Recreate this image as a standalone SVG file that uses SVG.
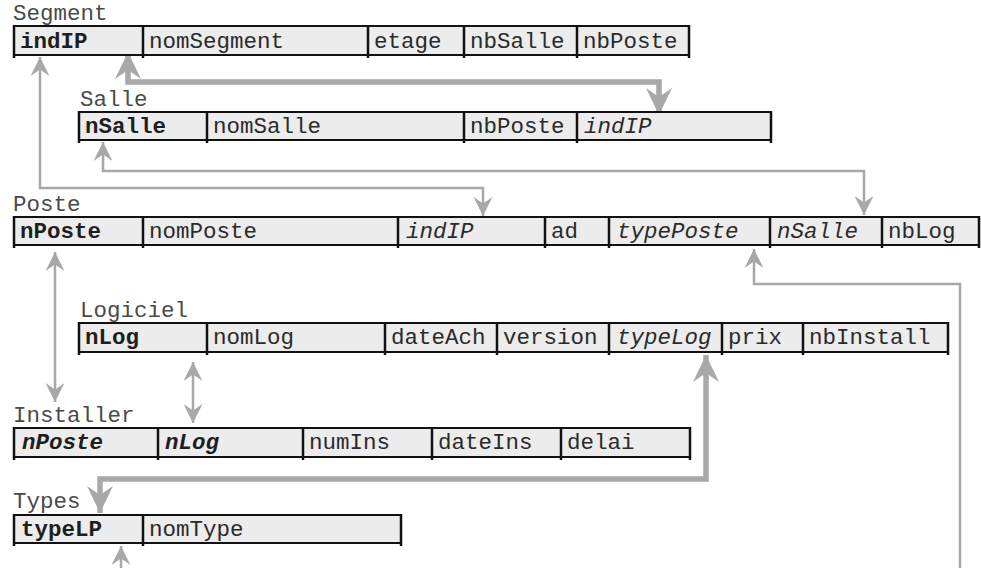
<svg xmlns="http://www.w3.org/2000/svg" width="981" height="568" viewBox="0 0 981 568">
<style>
.bg{fill:#ffffff}
.cell{fill:#ececec;stroke:none}
.edge{fill:none;stroke:#111;stroke-width:2}
.div{fill:none;stroke:#111;stroke-width:2.5}
.t{font-family:"Liberation Mono","Courier New",monospace;font-size:22.5px;fill:#2a2a2a}
.lbl{font-family:"Liberation Mono","Courier New",monospace;font-size:22.5px;fill:#4a4a4a}
.b{font-weight:bold;fill:#1e1e1e}
.i{font-style:italic}
.thin{fill:none;stroke:#a8a8a8;stroke-width:2.5;marker-start:url(#ah);marker-end:url(#ah)}
.thinEnd{fill:none;stroke:#a8a8a8;stroke-width:2.5;marker-end:url(#ah)}
.thick{fill:none;stroke:#a8a8a8;stroke-width:5.5;marker-start:url(#ahT);marker-end:url(#ahT)}
</style>
<defs>
<marker id="ah" markerUnits="userSpaceOnUse" markerWidth="24" markerHeight="24" viewBox="-21 -12 24 24" refX="0" refY="0" orient="auto-start-reverse">
<path d="M0,0L-19,-9.5L-12.5,0L-19,9.5Z" fill="#a8a8a8"/>
</marker>
<marker id="ahT" markerUnits="userSpaceOnUse" markerWidth="34" markerHeight="32" viewBox="-31 -16 34 32" refX="0" refY="0" orient="auto-start-reverse">
<path d="M0,0L-27,-13L-18,0L-27,13Z" fill="#a8a8a8"/>
</marker>
</defs>
<rect class="bg" x="0" y="0" width="981" height="568"/>

<g id="connectors">
<path class="thick" d="M128,52V82H659V115"/>
<path class="thin" d="M40,57V188H483V216"/>
<path class="thin" d="M103,142V171H864V215"/>
<path class="thin" d="M55,252V402"/>
<path class="thin" d="M193,362V423"/>
<path class="thick" d="M706,355V479H100V513"/>
<path class="thinEnd" d="M960,568V284H754V249"/>
<path class="thinEnd" d="M121,568V546"/>
</g>

<g id="segment">
<text class="lbl" x="13" y="20">Segment</text>
<rect class="cell" x="14" y="26" width="675" height="29"/>
<path class="edge" d="M14,26H689M14,55H689"/>
<path class="div" d="M14,25V58M143,25V58M368,25V58M464,25V58M577,25V58M689,25V58"/>
<text class="t b" x="20" y="48">indIP</text>
<text class="t" x="149" y="48">nomSegment</text>
<text class="t" x="374" y="48">etage</text>
<text class="t" x="470" y="48">nbSalle</text>
<text class="t" x="583" y="48">nbPoste</text>
</g>

<g id="salle">
<text class="lbl" x="80" y="106">Salle</text>
<rect class="cell" x="79" y="112" width="692" height="28"/>
<path class="edge" d="M79,112H771M79,140H771"/>
<path class="div" d="M79,111V143M207,111V143M464,111V143M577,111V143M771,111V143"/>
<text class="t b" x="85" y="133">nSalle</text>
<text class="t" x="213" y="133">nomSalle</text>
<text class="t" x="470" y="133">nbPoste</text>
<text class="t i" x="584" y="133">indIP</text>
</g>

<g id="poste">
<text class="lbl" x="13" y="211">Poste</text>
<rect class="cell" x="14" y="217" width="965" height="28"/>
<path class="edge" d="M14,217H979M14,245H979"/>
<path class="div" d="M14,216V248M143,216V248M398,216V248M545,216V248M609,216V248M770,216V248M882,216V248M979,216V248"/>
<text class="t b" x="20" y="238">nPoste</text>
<text class="t" x="149" y="238">nomPoste</text>
<text class="t i" x="406" y="238">indIP</text>
<text class="t" x="551" y="238">ad</text>
<text class="t i" x="617" y="238">typePoste</text>
<text class="t i" x="777" y="238">nSalle</text>
<text class="t" x="888" y="238">nbLog</text>
</g>

<g id="logiciel">
<text class="lbl" x="80" y="317">Logiciel</text>
<rect class="cell" x="79" y="323" width="869" height="29"/>
<path class="edge" d="M79,323H948M79,352H948"/>
<path class="div" d="M79,322V355M207,322V355M385,322V355M497,322V355M609,322V355M722,322V355M803,322V355M948,322V355"/>
<text class="t b" x="85" y="344">nLog</text>
<text class="t" x="213" y="344">nomLog</text>
<text class="t" x="391" y="344">dateAch</text>
<text class="t" x="503" y="344">version</text>
<text class="t i" x="617" y="344">typeLog</text>
<text class="t" x="728" y="344">prix</text>
<text class="t" x="809" y="344">nbInstall</text>
</g>

<g id="installer">
<text class="lbl" x="13" y="422">Installer</text>
<rect class="cell" x="14" y="428" width="676" height="29"/>
<path class="edge" d="M14,428H690M14,457H690"/>
<path class="div" d="M14,427V460M158,427V460M303,427V460M432,427V460M561,427V460M690,427V460"/>
<text class="t b i" x="22" y="449">nPoste</text>
<text class="t b i" x="165" y="449">nLog</text>
<text class="t" x="309" y="449">numIns</text>
<text class="t" x="438" y="449">dateIns</text>
<text class="t" x="567" y="449">delai</text>
</g>

<g id="types">
<text class="lbl" x="13" y="508">Types</text>
<rect class="cell" x="14" y="515" width="387" height="28"/>
<path class="edge" d="M14,515H401M14,543H401"/>
<path class="div" d="M14,514V546M143,514V546M401,514V546"/>
<text class="t b" x="21" y="536">typeLP</text>
<text class="t" x="149" y="536">nomType</text>
</g>
</svg>
